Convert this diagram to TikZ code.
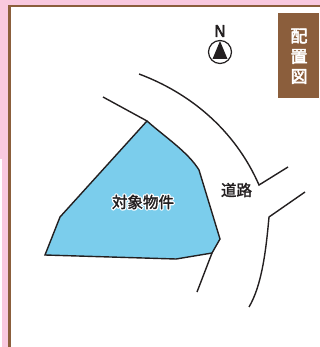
\documentclass[tikz,border=0pt]{standalone}
\usepackage{fontspec}
\newfontfamily\cjk{Noto Sans CJK JP}
\newfontfamily\latinb{Liberation Sans}
\definecolor{pinkbg}{HTML}{F9C9DF}
\definecolor{brownc}{HTML}{8B5E3C}
\definecolor{bluec}{HTML}{7BCDEC}
\definecolor{inkc}{HTML}{231F20}
\newcommand{\strk}[3]{\special{pdf:code q #2 RG #1 w 2 Tr 1 j 1 J}#3\special{pdf:code Q}}
\tikzset{
  roadline/.style={draw=inkc,line width=1.4pt},
  boxlabel/.style={text=white,font=\cjk\fontsize{17}{17}\selectfont,inner sep=0pt},
  lotlabel/.style={text=inkc,font=\cjk\fontsize{15.5}{15.5}\selectfont,inner sep=0pt},
  inklabel/.style={text=inkc,font=\cjk\fontsize{15.5}{15.5}\selectfont,inner sep=0pt},
}
\begin{document}
\begin{tikzpicture}[x=1pt,y=-1pt]
\useasboundingbox (0,0) rectangle (320,347);
\fill[white] (0,0) rectangle (320,347);
\fill[pinkbg] (0,0) rectangle (320,5);
\fill[pinkbg] (0,0) rectangle (8,159);
\fill[pinkbg] (2,159) rectangle (8,347);
\fill[brownc] (8,5) rectangle (320,7.5);
\fill[brownc] (8,5) rectangle (11,347);
% lot
\coordinate (a) at (147,121);
\coordinate (b) at (199,170);
\coordinate (c) at (220,239);
\coordinate (d) at (212,253);
\coordinate (e) at (176,259);
\coordinate (f) at (45,255);
\coordinate (g) at (60,217);
\path[fill=bluec,draw=inkc,line width=1.4pt,line join=miter]
  (a) .. controls (165,137) and (188,152) .. (b) -- (c) -- (d) -- (e) -- (f) -- (g) -- cycle;
% roads
\coordinate (r1) at (103,97);
\draw[roadline] (r1) -- (a);
\coordinate (r2) at (139,74);
\coordinate (r3) at (259,185);
\coordinate (r4) at (288,167);
\draw[roadline,line join=miter] (r2) .. controls (190,93) and (235,130) .. (r3) -- (r4);
\coordinate (r5) at (305,192);
\coordinate (r6) at (269,217);
\coordinate (r7) at (249,307);
\draw[roadline,line join=miter] (r5) -- (r6) .. controls (266,250) and (262,285) .. (r7);
\coordinate (r8) at (197,292);
\draw[roadline] (d) -- (r8);
% labels
\node[lotlabel,text=white] (lothalo) at (143,202) {\strk{3}{1 1 1}{対象物件}};
\node[lotlabel] (lot) at (143,202) {\strk{0.3}{0.137 0.122 0.125}{対象物件}};
\node[inklabel] (road) at (236.5,190) {\strk{0.3}{0.137 0.122 0.125}{道路}};
% title box
\node[fill=brownc,minimum width=41pt,minimum height=85pt,inner sep=0pt] (titlebox) at (298.5,55.5) {};
\node[boxlabel] (t1) at (299,36) {\strk{0.5}{1 1 1}{配}};
\node[boxlabel] (t2) at (299,56.5) {\strk{0.5}{1 1 1}{置}};
\node[boxlabel] (t3) at (299,76.5) {\strk{0.5}{1 1 1}{図}};
% north mark
\node[text=inkc,font=\latinb\fontsize{17}{17}\selectfont,inner sep=0pt,transform shape,xscale=.85] (north) at (220,31) {\strk{0.7}{0.137 0.122 0.125}{N}};
\node[circle,draw=inkc,line width=1.2pt,minimum size=23pt,inner sep=0pt] (compass) at (220,52) {};
\fill[inkc] (220,41) -- (227.5,59) -- (212.5,59) -- cycle;
\end{tikzpicture}
\end{document}
